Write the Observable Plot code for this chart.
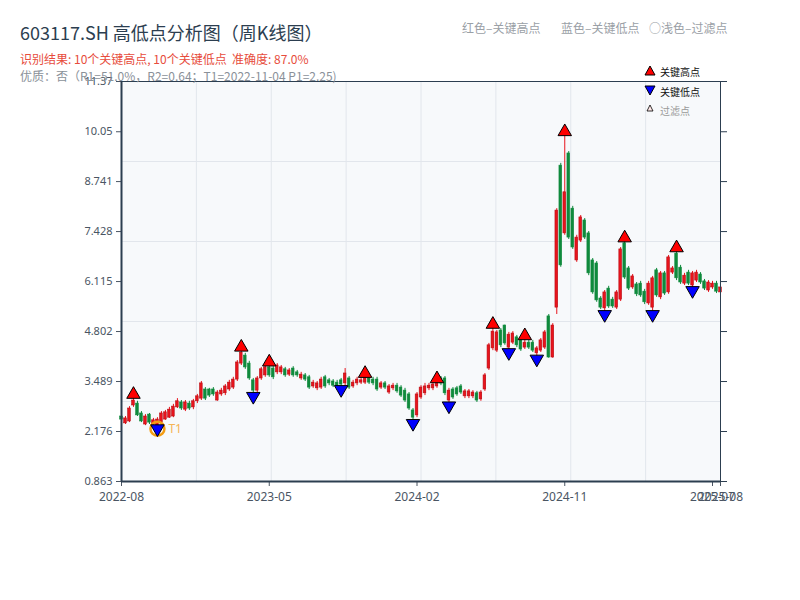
<!DOCTYPE html>
<html><head><meta charset="utf-8">
<script src="https://cdn.jsdelivr.net/npm/d3@7"></script>
<script src="https://cdn.jsdelivr.net/npm/@observablehq/plot@0.6"></script>
<style>
body{margin:0;background:#fff;font-family:"Noto Sans CJK SC","Noto Sans",sans-serif;}
#wrap{position:relative;width:800px;height:600px;overflow:hidden;}
#chart{position:absolute;left:0;top:0;}
.t{position:absolute;white-space:nowrap;line-height:1;}
</style></head><body>
<div id="wrap">
<div id="chart"></div>
<div class="t" style="left:20px;top:23px;font-size:18px;color:#2c3e50">603117.SH 高低点分析图（周K线图）</div>
<div class="t" style="left:20px;top:53px;font-size:12px;color:#e74c3c">识别结果: 10个关键高点, 10个关键低点&nbsp;&nbsp;准确度: 87.0%</div>
<div class="t" style="left:20px;top:70px;font-size:12px;color:#8a9199">优质：否（R1=51.0%，R2=0.64；T1=2022-11-04 P1=2.25)</div>
<div class="t" style="left:462px;top:22px;font-size:12px;color:#9aa0a6">红色–关键高点</div>
<div class="t" style="left:561px;top:22px;font-size:12px;color:#9aa0a6">蓝色–关键低点</div>
<div class="t" style="left:649px;top:22px;font-size:12px;color:#9aa0a6">○浅色–过滤点</div>
<svg class="t" style="left:640px;top:62px" width="20" height="56">
  <polygon points="10,4 15,13 5,13" fill="#ff0000" stroke="#000" stroke-width="1"/>
  <polygon points="5,24 15,24 10,33" fill="#0000ff" stroke="#000" stroke-width="1"/>
  <polygon points="10,43 13,49 7,49" fill="#ffe8e8" stroke="#000" stroke-width="0.8"/>
</svg>
<div class="t" style="left:660px;top:67px;font-size:10px;color:#111">关键高点</div>
<div class="t" style="left:660px;top:87px;font-size:10px;color:#111">关键低点</div>
<div class="t" style="left:660px;top:106px;font-size:10px;color:#999">过滤点</div>
</div>
<script>
const opens = [2.57,2.39,2.44,2.86,2.91,2.65,2.36,2.62,2.36,2.33,
2.41,2.49,2.54,2.57,2.81,2.94,2.75,2.91,2.81,2.97,
3.04,3.28,3.28,3.28,2.99,3.15,3.18,3.28,3.33,3.54,
3.96,4.17,3.96,3.52,3.25,3.57,3.65,3.86,3.83,3.73,
3.73,3.81,3.67,3.83,3.73,3.57,3.65,3.60,3.36,3.31,
3.33,3.60,3.52,3.49,3.46,3.52,3.44,3.57,3.36,3.44,
3.46,3.46,3.57,3.54,3.54,3.33,3.44,3.20,3.31,3.38,
3.33,3.25,3.15,2.73,2.60,3.07,3.18,3.31,3.31,3.36,
3.57,3.57,2.99,3.28,3.31,3.36,3.10,3.10,3.10,3.18,
3.02,3.28,3.83,4.36,4.30,4.83,4.96,4.38,4.51,4.65,
4.57,4.38,4.51,4.51,4.23,4.30,4.38,5.20,4.12,5.43,
9.16,7.38,9.48,8.03,6.67,7.19,7.72,7.38,6.67,6.59,
5.67,5.41,5.93,5.64,5.43,5.64,7.12,6.46,5.96,6.04,
6.06,5.85,5.54,5.43,6.41,5.70,6.33,5.83,6.35,6.85,
6.48,6.06,6.35,6.01,6.14,6.30,6.12,5.88,5.96,6.06,
5.83];
const closes = [2.49,2.52,2.78,2.99,2.60,2.44,2.57,2.41,2.47,2.49,
2.65,2.68,2.75,2.83,2.97,2.78,2.94,2.78,2.97,3.10,
3.44,3.04,3.12,3.15,3.20,3.25,3.36,3.46,3.54,3.99,
4.25,3.86,3.57,3.25,3.57,3.81,3.86,3.65,3.60,3.91,
3.86,3.65,3.78,3.65,3.65,3.67,3.54,3.33,3.46,3.44,
3.54,3.36,3.44,3.38,3.38,3.41,3.70,3.33,3.46,3.54,
3.52,3.60,3.46,3.44,3.28,3.44,3.33,3.36,3.38,3.23,
3.12,2.99,2.78,2.54,3.15,3.33,3.36,3.38,3.41,3.46,
3.44,3.18,3.25,3.07,3.15,3.20,3.23,3.23,3.20,2.99,
3.20,3.65,4.44,4.80,4.78,4.44,4.49,4.72,4.75,4.44,
4.33,4.51,4.38,4.30,4.36,4.57,4.78,4.12,4.96,7.98,
6.54,8.46,7.27,7.01,7.27,7.80,7.27,6.33,5.83,5.62,
5.43,5.83,5.46,5.46,5.83,6.96,6.22,5.93,6.25,5.78,
5.75,5.57,6.06,6.20,5.75,6.33,5.80,6.75,6.46,6.20,
6.09,6.27,6.06,6.33,6.35,6.09,5.93,6.09,6.06,5.85,
5.96];
const highs = [2.62,2.57,2.83,3.15,2.97,2.70,2.62,2.65,2.52,2.54,
2.70,2.73,2.81,2.89,3.04,2.99,2.99,2.97,3.02,3.15,
3.49,3.33,3.31,3.33,3.25,3.31,3.41,3.52,3.60,4.04,
4.39,4.23,4.02,3.57,3.62,3.86,3.91,4.00,3.88,3.96,
3.91,3.86,3.83,3.88,3.78,3.73,3.70,3.65,3.52,3.49,
3.60,3.65,3.57,3.54,3.52,3.57,3.83,3.62,3.52,3.60,
3.57,3.70,3.62,3.60,3.60,3.49,3.49,3.41,3.44,3.44,
3.38,3.31,3.20,2.78,3.20,3.38,3.44,3.44,3.46,3.56,
3.62,3.62,3.31,3.33,3.36,3.41,3.28,3.28,3.25,3.23,
3.25,3.70,4.49,4.99,4.83,4.88,4.97,4.78,4.80,4.70,
4.62,4.69,4.57,4.57,4.41,4.62,4.83,5.25,5.01,8.03,
9.22,10.05,9.53,8.09,7.33,7.85,7.77,7.43,6.72,6.64,
5.72,5.88,5.99,5.70,5.88,7.01,7.26,6.51,6.30,6.09,
6.12,5.91,6.12,6.25,6.46,6.38,6.38,6.80,6.51,7.00,
6.54,6.33,6.41,6.38,6.41,6.35,6.17,6.14,6.12,6.12,
6.01];
const lows = [2.44,2.36,2.41,2.81,2.57,2.41,2.33,2.36,2.31,2.25,
2.39,2.47,2.52,2.54,2.78,2.73,2.70,2.73,2.75,2.91,
2.99,2.99,3.07,3.10,2.97,3.10,3.12,3.23,3.28,3.49,
3.91,3.81,3.52,3.10,3.20,3.52,3.60,3.60,3.54,3.67,
3.67,3.60,3.62,3.60,3.60,3.52,3.49,3.28,3.31,3.25,
3.28,3.31,3.38,3.33,3.33,3.28,3.38,3.28,3.31,3.38,
3.41,3.41,3.41,3.38,3.23,3.28,3.28,3.15,3.25,3.18,
3.07,2.94,2.73,2.39,2.54,3.02,3.12,3.25,3.25,3.31,
3.38,3.12,2.85,3.02,3.10,3.15,3.04,3.04,3.04,2.94,
2.97,3.23,3.78,4.30,4.25,4.38,4.44,4.25,4.46,4.38,
4.28,4.33,4.33,4.25,4.08,4.25,4.33,4.10,4.10,5.25,
6.49,7.33,7.22,6.96,6.62,7.14,7.22,6.27,5.78,5.57,
5.38,5.25,5.41,5.41,5.38,5.59,6.17,5.88,5.91,5.72,
5.70,5.51,5.49,5.25,5.70,5.64,5.75,5.78,6.30,6.14,
6.04,6.01,6.01,5.88,6.09,6.04,5.88,5.83,5.91,5.80,
5.78];

const keyHighIdx = [3, 30, 37, 61, 79, 93, 101, 111, 126, 139];
const keyLowIdx = [9, 33, 55, 73, 82, 97, 104, 121, 133, 143];
const t1Idx = 9, p1Value = 2.25;

const xTickIdx = [0, 37, 74, 111, 148, 150];
const xTickLabels = ["2022-08", "2023-05", "2024-02", "2024-11", "2025-07", "2025-08"];
const yTicks = [0.863, 2.176, 3.489, 4.802, 6.115, 7.428, 8.741, 10.05, 11.37];
const yTickLabels = ["0.863", "2.176", "3.489", "4.802", "6.115", "7.428", "8.741", "10.05", "11.37"];

const yMin = 0.863, yMax = 11.37, xMax = opens.length - 1;
const candles = opens.map((o, i) => ({i, o, c: closes[i], h: highs[i], l: lows[i], up: closes[i] >= o}));
const highPts = keyHighIdx.map(i => ({i, v: highs[i]}));
const lowPts = keyLowIdx.map(i => ({i, v: lows[i]}));
const gridY = [1, 2, 3, 4].map(k => yMin + k * (yMax - yMin) / 5);
const gridX = [1, 2, 3, 4, 5, 6, 7].map(k => k * xMax / 8);

const RED = "#e8141c", RED_EDGE = "#b80d14", GREEN = "#0f8a3c";
const sqrt3 = Math.sqrt(3);
const triDown = {draw(ctx, size) {
  const y = Math.sqrt(size / (sqrt3 * 3));
  ctx.moveTo(0, y * 2); ctx.lineTo(-sqrt3 * y, -y); ctx.lineTo(sqrt3 * y, -y); ctx.closePath();
}};

const chart = Plot.plot({
  width: 800, height: 600,
  marginLeft: 121, marginRight: 80, marginTop: 81, marginBottom: 119,
  style: {fontFamily: '"Noto Sans", "Noto Sans CJK SC", sans-serif', fontSize: "11px", background: "transparent"},
  x: {domain: [0, xMax]},
  y: {domain: [yMin, yMax]},
  marks: [
    Plot.frame({fill: "#f7f9fb", stroke: null}),
    Plot.ruleY(gridY, {stroke: "#e2e6ec", strokeWidth: 1}),
    Plot.ruleX(gridX, {stroke: "#e2e6ec", strokeWidth: 1}),
    Plot.ruleX(candles, {x: "i", y1: "l", y2: "h", stroke: d => d.up ? RED : GREEN, strokeWidth: 1}),
    Plot.rect(candles, {x1: d => d.i - 0.33, x2: d => d.i + 0.33, y1: "o", y2: "c",
      fill: d => d.up ? RED : GREEN, stroke: d => d.up ? RED_EDGE : GREEN, strokeWidth: 0.6}),
    Plot.dot([{i: t1Idx, v: p1Value}], {x: "i", y: "v", r: 7, stroke: "#f39c12", strokeWidth: 2.5, fill: "none"}),
    Plot.dot(highPts, {x: "i", y: "v", symbol: "triangle", r: 5, fill: "#ff0000", stroke: "#000", strokeWidth: 1}),
    Plot.dot(lowPts, {x: "i", y: "v", symbol: triDown, r: 5, fill: "#0000ff", stroke: "#000", strokeWidth: 1}),
    Plot.text([{i: t1Idx, v: p1Value}], {x: "i", y: "v", text: () => "T1", dx: 11, textAnchor: "start", fill: "#f5b556", fontSize: 12}),
    Plot.axisY({ticks: yTicks, tickFormat: d => yTickLabels[yTicks.indexOf(d)], tickSize: 5, color: "#4a5563", label: null}),
    Plot.axisY({anchor: "right", ticks: yTicks, tickFormat: () => "", tickSize: 6, color: "#2c3e50", label: null}),
    Plot.axisX({ticks: xTickIdx, tickFormat: d => xTickLabels[xTickIdx.indexOf(d)], tickSize: 5, tickPadding: 6, fontSize: 12, color: "#4a5563", label: null}),
    Plot.frame({stroke: "#2c3e50", strokeWidth: 1}),
    Plot.ruleX([0], {stroke: "#2c3e50", strokeWidth: 2}),
    Plot.ruleY([yMin], {stroke: "#2c3e50", strokeWidth: 2})
  ]
});
document.getElementById("chart").appendChild(chart);
</script>
</body></html>
